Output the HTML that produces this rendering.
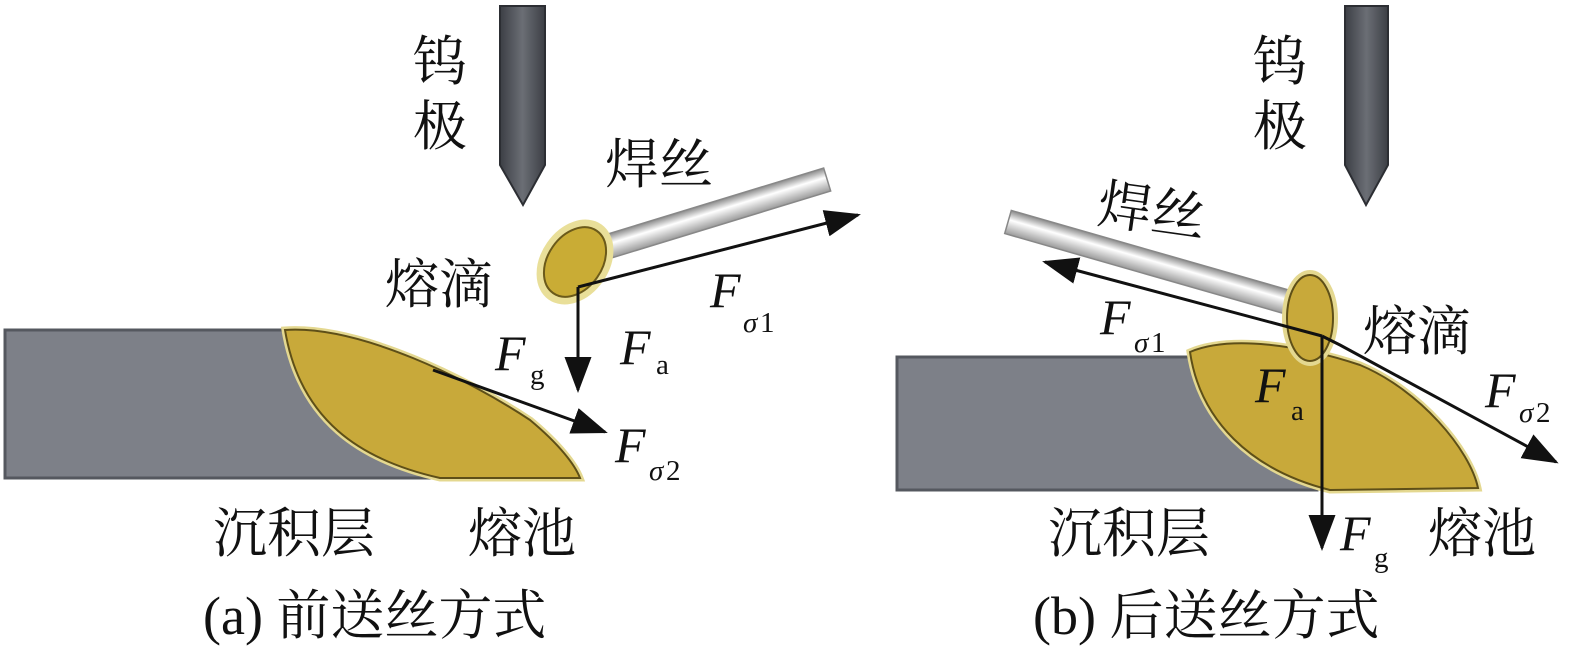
<!DOCTYPE html>
<html><head><meta charset="utf-8"><style>
html,body{margin:0;padding:0;background:#fff;}
svg{display:block;}
.c{font-family:"Liberation Serif","Noto Serif CJK SC",serif;font-size:54px;fill:#111;}
.f{font-family:"Liberation Serif",serif;font-style:italic;font-size:50px;fill:#111;}
.s{font-family:"Liberation Serif",serif;font-size:29px;fill:#111;}
.si{font-family:"Liberation Serif",serif;font-style:italic;font-size:29px;fill:#111;}
</style></head><body>
<svg width="1575" height="654" viewBox="0 0 1575 654" xmlns="http://www.w3.org/2000/svg">
<defs>
<linearGradient id="el" x1="0" x2="1"><stop offset="0" stop-color="#3c3f45"/><stop offset="0.5" stop-color="#6b6e75"/><stop offset="1" stop-color="#3c3f45"/></linearGradient>
<linearGradient id="wire" x1="0" y1="0" x2="0" y2="1"><stop offset="0" stop-color="#8a8a8a"/><stop offset="0.4" stop-color="#ffffff"/><stop offset="1" stop-color="#9a9a9a"/></linearGradient>
<marker id="ah" markerWidth="12" markerHeight="9" refX="11" refY="4.5" orient="auto" markerUnits="strokeWidth"><path d="M0,0 L12,4.5 L0,9 Z" fill="#111"/></marker>
</defs>
<!-- LEFT -->
<path d="M500,6 H545 V165 L523,205 L500,165 Z" fill="url(#el)" stroke="#2c2e33" stroke-width="2"/>
<text class="c" x="413" y="80">钨</text>
<text class="c" x="413" y="145">极</text>
<g transform="translate(590,252) rotate(-17)"><rect x="0" y="-12" width="248" height="24" fill="url(#wire)" stroke="#888" stroke-width="1.5"/></g>
<ellipse cx="575" cy="262" rx="30" ry="42" transform="rotate(35 575 262)" fill="#c4a93a" stroke="#e9df99" stroke-width="8"/>
<ellipse cx="575" cy="262" rx="27" ry="38" transform="rotate(35 575 262)" fill="#c9ac35" stroke="#6b5a1a" stroke-width="2"/>
<path d="M5,330 H290 L445,478 H5 Z" fill="#7d8088" stroke="#55585f" stroke-width="3"/>
<path d="M285,330 C360,325 470,380 530,420 C560,445 575,465 580,478 L440,478 C360,460 300,420 285,330 Z" fill="#c8a93a" stroke="#e4d890" stroke-width="7"/>
<path d="M285,330 C360,325 470,380 530,420 C560,445 575,465 580,478 L440,478 C360,460 300,420 285,330 Z" fill="#c8a93a" stroke="#5e4f18" stroke-width="2"/>
<path d="M578,287 V390" stroke="#111" stroke-width="3" marker-end="url(#ah)"/>
<path d="M578,287 L858,215" stroke="#111" stroke-width="3" marker-end="url(#ah)"/>
<path d="M433,370 L605,432" stroke="#111" stroke-width="3" marker-end="url(#ah)"/>
<text class="c" x="605" y="183">焊丝</text>
<text class="c" x="385" y="303">熔滴</text>
<text class="f" x="495" y="370">F</text><text class="s" x="530" y="384">g</text>
<text class="f" x="620" y="364">F</text><text class="s" x="656" y="374">a</text>
<text class="f" x="710" y="307">F</text><text class="si" x="743" y="332">σ</text><text class="s" x="760" y="332">1</text>
<text class="f" x="615" y="462">F</text><text class="si" x="649" y="480">σ</text><text class="s" x="666" y="480">2</text>
<text class="c" x="213" y="552">沉积层</text>
<text class="c" x="468" y="552">熔池</text>
<text class="c" x="203" y="634">(a) 前送丝方式</text>
<!-- RIGHT -->
<path d="M1345,6 H1388 V165 L1366,205 L1345,165 Z" fill="url(#el)" stroke="#2c2e33" stroke-width="2"/>
<text class="c" x="1253" y="80">钨</text>
<text class="c" x="1253" y="145">极</text>
<g transform="translate(1008,222) rotate(16)"><rect x="0" y="-12" width="290" height="24" fill="url(#wire)" stroke="#888" stroke-width="1.5"/></g>
<rect x="897" y="357" width="420" height="133" fill="#7d8088" stroke="#55585f" stroke-width="3"/>
<path d="M1190,352 C1230,335 1300,345 1360,365 C1420,390 1470,450 1478,488 L1330,490 C1250,470 1200,420 1190,352 Z" fill="#c8a93a" stroke="#e4d890" stroke-width="7"/>
<path d="M1190,352 C1230,335 1300,345 1360,365 C1420,390 1470,450 1478,488 L1330,490 C1250,470 1200,420 1190,352 Z" fill="#c8a93a" stroke="#5e4f18" stroke-width="2"/>
<ellipse cx="1310" cy="318" rx="25" ry="45" fill="#c8a93a" stroke="#e4d890" stroke-width="6"/>
<ellipse cx="1310" cy="318" rx="23" ry="43" fill="#c8a93a" stroke="#5e4f18" stroke-width="2"/>
<path d="M1322,336 L1045,262" stroke="#111" stroke-width="3" marker-end="url(#ah)"/>
<path d="M1322,336 L1340,345 L1556,462" fill="none" stroke="#111" stroke-width="3" marker-end="url(#ah)"/>
<path d="M1322,336 V548" stroke="#111" stroke-width="3" marker-end="url(#ah)"/>
<text class="c" x="1098" y="230" transform="rotate(8 1155 210)">焊丝</text>
<text class="f" x="1100" y="334">F</text><text class="si" x="1134" y="352">σ</text><text class="s" x="1151" y="352">1</text>
<text class="c" x="1363" y="350">熔滴</text>
<text class="f" x="1255" y="402">F</text><text class="s" x="1291" y="420">a</text>
<text class="f" x="1485" y="407">F</text><text class="si" x="1519" y="422">σ</text><text class="s" x="1536" y="422">2</text>
<text class="c" x="1048" y="552">沉积层</text>
<text class="f" x="1340" y="550">F</text><text class="s" x="1374" y="567">g</text>
<text class="c" x="1428" y="552">熔池</text>
<text class="c" x="1033" y="634">(b) 后送丝方式</text>
</svg>
</body></html>
